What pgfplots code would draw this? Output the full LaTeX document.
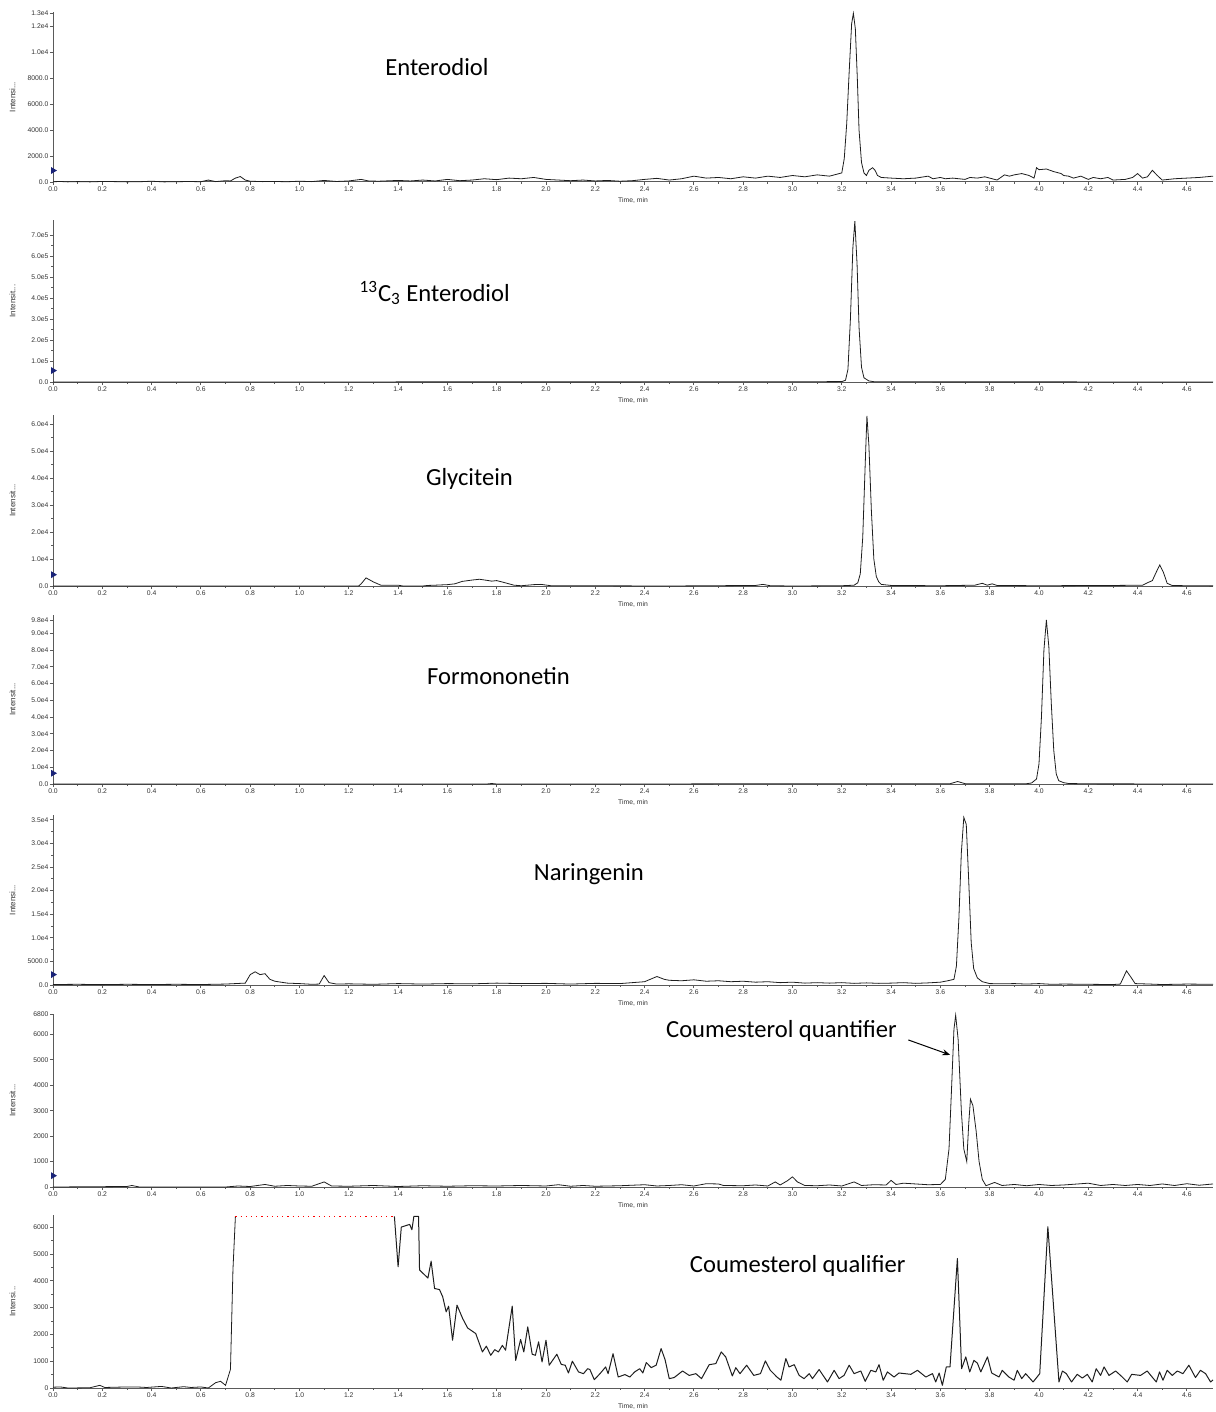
\documentclass[border=0pt]{standalone}
\usepackage{fontspec}
\setmainfont{Liberation Sans}
\newfontfamily\calib{Carlito}
\usepackage{pgfplots}
\pgfplotsset{compat=1.18}
\usetikzlibrary{arrows.meta}
\definecolor{trace}{RGB}{30,30,30}
\definecolor{axisgray}{RGB}{90,90,90}
\definecolor{ticktext}{RGB}{50,50,50}
\definecolor{marknavy}{RGB}{25,35,120}

\pgfplotsset{
  chrom/.style={
    scale only axis, width=580pt,
    xmin=0, xmax=4.706,
    axis x line*=bottom, axis y line*=left,
    axis line style={axisgray, line width=0.5pt},
    tick style={axisgray, line width=0.4pt},
    tick align=outside, major tick length=1.5pt, minor tick length=0.8pt,
    xtick={0,0.2,0.4,0.6,0.8,1.0,1.2,1.4,1.6,1.8,2.0,2.2,2.4,2.6,2.8,3.0,3.2,3.4,3.6,3.8,4.0,4.2,4.4,4.6},
    minor x tick num=1, minor y tick num=1,
    xticklabel style={/pgf/number format/fixed, /pgf/number format/fixed zerofill, /pgf/number format/precision=1},
    ticklabel style={font=\fontsize{3.4}{4}\selectfont, text=ticktext, inner sep=0.6pt},
    scaled y ticks=false,
    xlabel={Time, min},
    xlabel style={font=\fontsize{3.4}{4}\selectfont, text=ticktext, at={(axis description cs:0.5,0)}, anchor=center, yshift=-9pt},
    ylabel style={font=\fontsize{4}{5}\selectfont, text=ticktext, at={(axis description cs:-0.035,0.5)}, anchor=center},
    clip=false,
    cycle list={{trace, no markers, line width=0.5pt, line join=round}},
    /pgf/number format/assume math mode=true,
  },
  tri/.style={only marks, mark=triangle*, mark size=1.6pt, mark options={rotate=-90, fill=marknavy, draw=marknavy, xshift=-1.2pt}},
}
\tikzset{lab/.style={font=\calib\fontsize{12.3}{14}\selectfont, text=black}}

\begin{document}
\begin{tikzpicture}
\path[use as bounding box] (-26.5pt,91pt) rectangle (581pt,-615pt);

% Enterodiol
\begin{axis}[chrom, at={(0pt,0pt)}, anchor=south west, height=85pt,
  ymin=0, ymax=13100, ytick={0,2000,4000,6000,8000,10000,12000,13000},
  yticklabels={0.0,2000.0,4000.0,6000.0,8000.0,1.0e4,1.2e4,1.3e4}, ylabel={Intensi...}]
\addplot coordinates {(0,20) (0.03,40) (0.06,10) (0.1,30) (0.15,10) (0.2,40) (0.25,30) (0.3,10) (0.35,20) (0.4,60) (0.45,10) (0.5,20) (0.55,40) (0.6,20) (0.63,150) (0.66,30) (0.7,100) (0.72,80) (0.74,300) (0.76,420) (0.78,150) (0.8,60) (0.85,30) (0.9,40) (0.95,20) (1.0,60) (1.05,30) (1.1,120) (1.15,40) (1.2,80) (1.25,200) (1.28,80) (1.32,60) (1.4,120) (1.45,80) (1.5,150) (1.55,80) (1.6,200) (1.65,100) (1.7,150) (1.75,250) (1.8,180) (1.85,300) (1.9,250) (1.95,350) (2.0,200) (2.05,150) (2.1,100) (2.15,150) (2.2,80) (2.25,120) (2.3,60) (2.35,100) (2.4,200) (2.45,280) (2.5,150) (2.55,250) (2.6,450) (2.65,300) (2.7,350) (2.75,250) (2.8,400) (2.85,300) (2.9,450) (2.95,350) (3.0,500) (3.05,400) (3.1,550) (3.15,450) (3.18,600) (3.2,700) (3.21,1800) (3.22,4500) (3.23,8500) (3.24,12200) (3.247,13000) (3.255,11800) (3.263,8000) (3.27,4000) (3.28,1500) (3.29,700) (3.30,500) (3.31,900) (3.325,1100) (3.335,900) (3.345,500) (3.36,350) (3.4,300) (3.45,250) (3.5,300) (3.55,450) (3.57,250) (3.6,350) (3.62,250) (3.65,300) (3.7,200) (3.72,350) (3.75,300) (3.78,400) (3.8,300) (3.83,150) (3.86,550) (3.88,450) (3.9,550) (3.93,650) (3.96,500) (3.98,300) (3.99,1100) (4.0,950) (4.03,1000) (4.06,800) (4.09,650) (4.1,500) (4.12,450) (4.14,300) (4.17,450) (4.2,200) (4.22,350) (4.25,250) (4.28,350) (4.3,150) (4.35,200) (4.38,350) (4.4,650) (4.42,300) (4.44,400) (4.46,900) (4.48,500) (4.5,150) (4.55,250) (4.6,300) (4.65,350) (4.706,450)};
\addplot[tri] coordinates {(0,700)};
\node[lab] at (rel axis cs:0.331,0.676) {Enterodiol};
\end{axis}

% 13C3 Enterodiol
\begin{axis}[chrom, at={(0pt,-100pt)}, anchor=south west, height=81pt,
  ymin=0, ymax=771000, ytick={0,100000,200000,300000,400000,500000,600000,700000},
  yticklabels={0.0,1.0e5,2.0e5,3.0e5,4.0e5,5.0e5,6.0e5,7.0e5}, ylabel={Intensit...}]
\addplot coordinates {(0,300) (1.0,400) (2.0,600) (3.0,900) (3.2,2000) (3.215,8000) (3.225,60000) (3.235,300000) (3.245,640000) (3.253,765000) (3.262,560000) (3.27,260000) (3.28,70000) (3.29,20000) (3.31,5000) (3.33,1500) (3.4,800) (4.0,500) (4.706,400)};
\addplot[tri] coordinates {(0,43000)};
\node[lab] at (rel axis cs:0.329,0.549) {\textsuperscript{13}C\textsubscript{3} Enterodiol};
\end{axis}

% Glycitein
\begin{axis}[chrom, at={(0pt,-202pt)}, anchor=south west, height=85.5pt,
  ymin=0, ymax=63300, ytick={0,10000,20000,30000,40000,50000,60000},
  yticklabels={0.0,1.0e4,2.0e4,3.0e4,4.0e4,5.0e4,6.0e4}, ylabel={Intensit...}]
\addplot coordinates {(0,0) (1.0,0) (1.24,0) (1.25,800) (1.27,3000) (1.3,1500) (1.33,300) (1.4,300) (1.42,0) (1.5,0) (1.52,200) (1.55,300) (1.6,500) (1.63,800) (1.66,1700) (1.7,2200) (1.73,2500) (1.76,2100) (1.78,1800) (1.8,2000) (1.83,1300) (1.87,300) (1.9,100) (1.95,500) (1.98,600) (2.02,100) (2.1,100) (2.5,0) (2.85,200) (2.88,600) (2.91,100) (3.0,0) (3.2,100) (3.25,300) (3.265,1200) (3.275,4500) (3.285,18000) (3.295,45000) (3.302,63000) (3.31,52000) (3.32,28000) (3.33,10000) (3.34,3500) (3.35,1500) (3.36,600) (3.4,200) (3.6,100) (3.74,300) (3.77,1000) (3.79,300) (3.81,800) (3.83,200) (4.0,100) (4.3,200) (4.42,300) (4.44,1200) (4.46,2000) (4.475,5000) (4.49,7800) (4.505,5000) (4.52,1000) (4.54,200) (4.6,100) (4.706,50)};
\addplot[tri] coordinates {(0,3300)};
\node[lab] at (rel axis cs:0.359,0.626) {Glycitein};
\end{axis}

% Formononetin
\begin{axis}[chrom, at={(0pt,-301pt)}, anchor=south west, height=84.5pt,
  ymin=0, ymax=101000, ytick={0,10000,20000,30000,40000,50000,60000,70000,80000,90000,98000},
  yticklabels={0.0,1.0e4,2.0e4,3.0e4,4.0e4,5.0e4,6.0e4,7.0e4,8.0e4,9.0e4,9.8e4}, ylabel={Intensit...}]
\addplot coordinates {(0,0) (1.5,0) (1.76,0) (1.78,300) (1.8,0) (2.4,0) (2.7,100) (3.3,100) (3.64,200) (3.67,1500) (3.7,200) (3.95,200) (3.97,600) (3.99,3000) (4.00,12000) (4.01,40000) (4.02,80000) (4.03,98000) (4.04,82000) (4.05,48000) (4.06,20000) (4.07,6000) (4.08,2000) (4.1,800) (4.12,300) (4.2,100) (4.706,0)};
\addplot[tri] coordinates {(0,5000)};
\node[lab] at (rel axis cs:0.384,0.639) {Formononetin};
\end{axis}

% Naringenin
\begin{axis}[chrom, at={(0pt,-401.5pt)}, anchor=south west, height=85pt,
  ymin=0, ymax=36000, ytick={0,5000,10000,15000,20000,25000,30000,35000},
  yticklabels={0.0,5000.0,1.0e4,1.5e4,2.0e4,2.5e4,3.0e4,3.5e4}, ylabel={Intensi...}]
\addplot coordinates {(0,100) (0.1,150) (0.2,80) (0.3,150) (0.4,100) (0.5,150) (0.6,100) (0.7,200) (0.78,400) (0.8,2200) (0.82,2800) (0.84,2200) (0.86,2400) (0.88,1200) (0.9,800) (0.95,400) (1.0,300) (1.05,150) (1.08,200) (1.1,2000) (1.12,500) (1.15,200) (1.2,250) (1.3,150) (1.4,300) (1.5,200) (1.6,300) (1.7,250) (1.8,400) (1.9,300) (2.0,350) (2.1,200) (2.2,350) (2.3,300) (2.4,700) (2.45,1800) (2.48,1200) (2.5,1000) (2.55,900) (2.6,1100) (2.65,800) (2.7,900) (2.75,700) (2.8,800) (2.85,600) (2.9,700) (2.95,500) (3.0,600) (3.05,400) (3.1,500) (3.15,400) (3.2,500) (3.25,350) (3.3,450) (3.35,350) (3.4,400) (3.45,500) (3.5,350) (3.55,450) (3.6,600) (3.63,900) (3.655,1200) (3.665,4000) (3.675,14000) (3.685,28000) (3.695,35500) (3.705,34000) (3.715,22000) (3.725,9000) (3.735,3500) (3.75,1500) (3.77,700) (3.8,300) (3.85,250) (3.9,300) (3.95,200) (4.0,300) (4.05,150) (4.1,200) (4.2,150) (4.3,100) (4.33,200) (4.355,3000) (4.375,1500) (4.39,300) (4.45,200) (4.5,100) (4.6,200) (4.706,150)};
\addplot[tri] coordinates {(0,1700)};
\node[lab] at (rel axis cs:0.462,0.653) {Naringenin};
\end{axis}

% Coumesterol quantifier
\begin{axis}[chrom, at={(0pt,-502.5pt)}, anchor=south west, height=86.5pt,
  ymin=0, ymax=6800, ytick={0,1000,2000,3000,4000,5000,6000,6800},
  yticklabels={0,1000,2000,3000,4000,5000,6000,6800}, ylabel={Intensit...}]
\addplot coordinates {(0,0) (0.3,20) (0.32,60) (0.35,0) (0.7,0) (0.75,40) (0.8,20) (0.86,100) (0.9,30) (0.95,60) (1.0,40) (1.05,30) (1.1,200) (1.13,40) (1.2,30) (1.3,60) (1.4,20) (1.5,50) (1.6,30) (1.7,50) (1.8,40) (1.9,60) (2.0,40) (2.05,90) (2.1,30) (2.15,60) (2.2,30) (2.3,50) (2.4,90) (2.45,40) (2.5,60) (2.55,90) (2.6,40) (2.65,130) (2.7,120) (2.72,60) (2.8,50) (2.85,80) (2.9,40) (2.93,200) (2.95,80) (2.98,250) (3.0,400) (3.02,200) (3.05,60) (3.1,50) (3.15,80) (3.2,40) (3.25,200) (3.28,60) (3.33,90) (3.38,80) (3.4,260) (3.42,100) (3.45,150) (3.5,120) (3.55,90) (3.6,100) (3.62,300) (3.635,1500) (3.645,3800) (3.655,6200) (3.662,6750) (3.672,5800) (3.685,3000) (3.695,1500) (3.707,1000) (3.715,2500) (3.722,3450) (3.732,3200) (3.745,2200) (3.757,1000) (3.77,300) (3.785,50) (3.82,180) (3.85,60) (3.9,100) (3.95,50) (4.0,100) (4.05,60) (4.1,80) (4.2,150) (4.25,60) (4.3,100) (4.35,60) (4.4,100) (4.45,60) (4.5,120) (4.55,60) (4.6,130) (4.65,70) (4.706,120)};
\addplot[tri] coordinates {(0,350)};
\node[lab] at (rel axis cs:0.628,0.902) {Coumesterol quantifier};
\draw[-{Stealth[length=4pt,width=3pt]}, line width=0.5pt] (axis cs:3.47,5780) -- (axis cs:3.64,5190);
\end{axis}

% Coumesterol qualifier
\begin{axis}[chrom, at={(0pt,-603pt)}, anchor=south west, height=86.5pt,
  ymin=0, ymax=6450, ytick={0,1000,2000,3000,4000,5000,6000},
  yticklabels={0,1000,2000,3000,4000,5000,6000}, ylabel={Intensi...}]
\addplot coordinates {(0,30) (0.03,40) (0.06,0) (0.15,10) (0.19,100) (0.21,20) (0.3,40) (0.34,40) (0.38,20) (0.44,60) (0.48,0) (0.53,50) (0.56,20) (0.6,40) (0.63,0) (0.66,200) (0.68,250) (0.70,100) (0.72,700) (0.73,4400) (0.74,6400)};
\addplot[red, dotted, line width=0.6pt] coordinates {(0.74,6400) (1.385,6400)};
\addplot[trace, line width=0.5pt, line join=round] coordinates {(1.385,6400) (1.40,4520) (1.413,6000) (1.447,6100) (1.456,5900) (1.464,6400) (1.483,6400) (1.487,4400) (1.521,4100) (1.534,4730) (1.548,3710) (1.568,3670) (1.581,3400) (1.595,2840) (1.605,3050) (1.621,1780) (1.639,3090) (1.662,2590) (1.682,2240) (1.715,2030) (1.742,1345) (1.758,1560) (1.776,1220) (1.792,1430) (1.807,1345) (1.823,1590) (1.836,1410) (1.863,3050) (1.877,1030) (1.897,1810) (1.91,1345) (1.926,2280) (1.944,1260) (1.957,1220) (1.97,1720) (1.984,970) (2.0,1780) (2.013,850) (2.044,1260) (2.062,880) (2.078,850) (2.091,560) (2.107,1000) (2.132,600) (2.152,535) (2.169,720) (2.178,690) (2.196,310) (2.219,535) (2.242,785) (2.252,535) (2.272,1280) (2.293,410) (2.32,500) (2.34,410) (2.36,600) (2.38,720) (2.393,560) (2.407,950) (2.427,760) (2.447,850) (2.467,1470) (2.483,1060) (2.50,350) (2.52,390) (2.554,635) (2.581,470) (2.608,535) (2.631,350) (2.662,870) (2.689,910) (2.711,1345) (2.729,1160) (2.756,450) (2.77,760) (2.787,535) (2.814,850) (2.843,470) (2.87,535) (2.89,1010) (2.91,660) (2.937,410) (2.953,290) (2.973,1100) (2.986,785) (3.007,870) (3.027,470) (3.047,350) (3.068,535) (3.081,350) (3.108,690) (3.142,225) (3.169,660) (3.189,350) (3.209,470) (3.23,850) (3.25,535) (3.277,635) (3.295,250) (3.318,660) (3.338,600) (3.351,870) (3.368,290) (3.385,600) (3.412,410) (3.432,560) (3.48,510) (3.507,660) (3.541,410) (3.568,535) (3.581,225) (3.595,560) (3.608,100) (3.624,785) (3.639,785) (3.669,4830) (3.686,720) (3.703,1160) (3.719,600) (3.736,1030) (3.75,930) (3.764,600) (3.791,1160) (3.808,560) (3.838,410) (3.851,660) (3.878,410) (3.899,290) (3.912,660) (3.93,350) (3.946,535) (3.976,225) (4.003,535) (4.036,6015) (4.081,225) (4.095,635) (4.111,535) (4.132,225) (4.155,510) (4.176,370) (4.196,510) (4.216,225) (4.232,720) (4.25,470) (4.264,785) (4.284,470) (4.311,635) (4.338,410) (4.358,225) (4.376,510) (4.412,470) (4.439,635) (4.459,410) (4.476,225) (4.489,600) (4.503,290) (4.52,660) (4.541,470) (4.561,635) (4.584,535) (4.608,850) (4.635,390) (4.655,660) (4.676,535) (4.696,225) (4.706,300)};
\node[lab] at (rel axis cs:0.642,0.705) {Coumesterol qualifier};
\end{axis}
\end{tikzpicture}
\end{document}
